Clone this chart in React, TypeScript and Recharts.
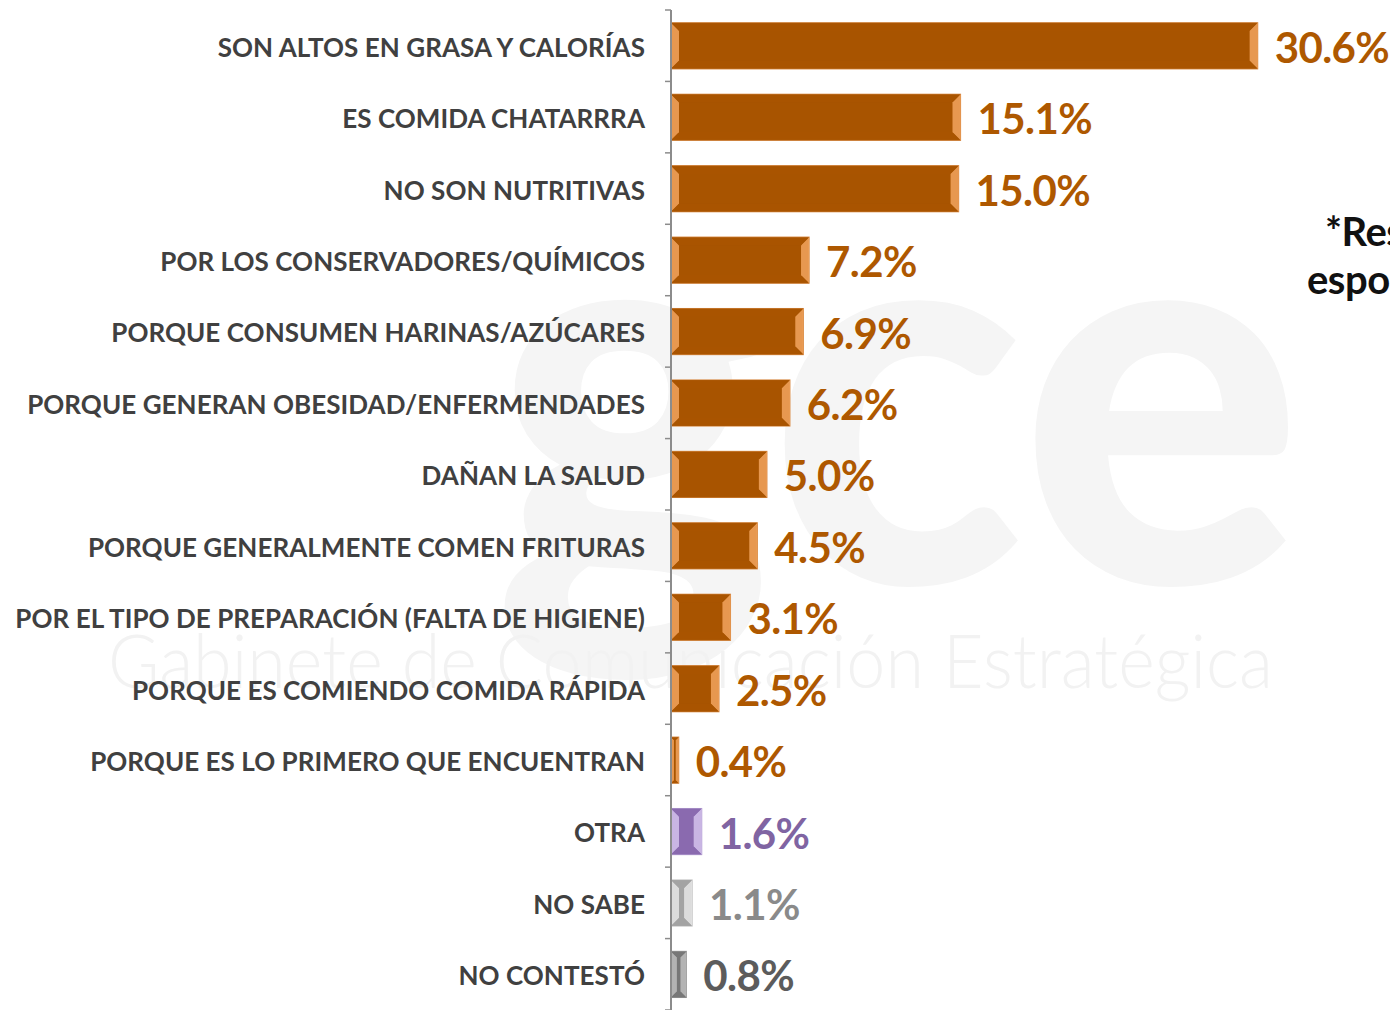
import React from "react";
import { BarChart, Bar, XAxis, YAxis, LabelList } from "recharts";

const categories = [
  "SON ALTOS EN GRASA Y CALORÍAS",
  "ES COMIDA CHATARRRA",
  "NO SON NUTRITIVAS",
  "POR LOS CONSERVADORES/QUÍMICOS",
  "PORQUE CONSUMEN HARINAS/AZÚCARES",
  "PORQUE GENERAN OBESIDAD/ENFERMENDADES",
  "DAÑAN LA SALUD",
  "PORQUE GENERALMENTE COMEN FRITURAS",
  "POR EL TIPO DE PREPARACIÓN (FALTA DE HIGIENE)",
  "PORQUE ES COMIENDO COMIDA RÁPIDA",
  "PORQUE ES LO PRIMERO QUE ENCUENTRAN",
  "OTRA",
  "NO SABE",
  "NO CONTESTÓ",
];
const values = [30.6, 15.1, 15.0, 7.2, 6.9, 6.2, 5.0, 4.5, 3.1, 2.5, 0.4, 1.6, 1.1, 0.8];
const sideNoteLines = ["*Respuesta", "espontánea"];
const watermarkName = "Gabinete de Comunicación Estratégica";
const watermarkLogo = "gce";

const data = categories.map((c, i) => ({ category: c, value: values[i] }));

type Pal = { base: string; light: string; edge: string; text: string };
const PAL: Record<string, Pal> = {
  orange: { base: "#A85400", light: "#F2A45E", edge: "#D88A45", text: "#AE5800" },
  purple: { base: "#8A6AAF", light: "#D4C2EC", edge: "#B7A2D4", text: "#8064A2" },
  gray: { base: "#A3A3A3", light: "#E6E6E6", edge: "#C4C4C4", text: "#8A8A8A" },
  dark: { base: "#777777", light: "#BDBDBD", edge: "#999999", text: "#5C5C5C" },
};
const palFor = (cat: string): Pal => {
  if (cat === "OTRA") return PAL.purple;
  if (cat === "NO SABE") return PAL.gray;
  if (cat === "NO CONTESTÓ") return PAL.dark;
  return PAL.orange;
};

const CHART_W = 1390;
const CHART_H = 1002;
const MARGIN = { top: 2, right: 56, bottom: 0, left: 0 };
const Y_W = 663;
const BAND = (CHART_H - MARGIN.top - MARGIN.bottom) / categories.length;

const BevelBar = (props: any) => {
  const { x, y, width, height, payload } = props;
  if (width == null || height == null) return null;
  const p = palFor(payload.category);
  const b = Math.min(8, width / 2.6);
  const L = x, R = x + width, T = y, B = y + height;
  return (
    <g>
      <rect x={L} y={T} width={width} height={height} fill={p.base} stroke={p.edge} strokeWidth={1.2} />
      <polygon points={`${L},${T} ${L + b},${T + b} ${L + b},${B - b} ${L},${B}`} fill={p.light} opacity={0.85} />
      <polygon points={`${R},${T} ${R - b},${T + b} ${R - b},${B - b} ${R},${B}`} fill={p.light} opacity={0.85} />
      <polygon points={`${L},${T} ${R},${T} ${R - b},${T + b} ${L + b},${T + b}`} fill={p.base} opacity={0.9} />
      <polygon points={`${L},${B} ${R},${B} ${R - b},${B - b} ${L + b},${B - b}`} fill={p.base} opacity={0.9} />
    </g>
  );
};

const CatTick = (props: any) => {
  const { x, y, payload, index } = props;
  const last = index === categories.length - 1;
  return (
    <g>
      <line x1={x - 6} x2={x} y1={y - BAND / 2} y2={y - BAND / 2} stroke="#8C8C8C" strokeWidth={1.5} />
      {last && <line x1={x - 6} x2={x} y1={y + BAND / 2} y2={y + BAND / 2} stroke="#8C8C8C" strokeWidth={1.5} />}
      <text
        x={x - 26}
        y={y}
        dy={11}
        textAnchor="end"
        fontFamily="Lato, sans-serif"
        fontWeight={700}
        fontSize={26}
        letterSpacing={0.05}
        fill="#404040"
      >
        {payload.value}
      </text>
    </g>
  );
};

const ValueLabel = (props: any) => {
  const { x, y, width, height, value, index } = props;
  const p = palFor(categories[index]);
  return (
    <text
      x={x + width + 17}
      y={y + height / 2}
      dy={17}
      fontFamily="Lato, sans-serif"
      fontWeight={700}
      fontSize={42}
      letterSpacing={-0.6}
      fill={p.text}
    >
      {value.toFixed(1)}%
    </text>
  );
};

export default function App() {
  return (
    <div style={{ position: "relative", width: CHART_W, height: CHART_H, background: "#fff" }}>
      <style>{`html,body{overflow:hidden;}`}</style>
      <svg width={CHART_W} height={CHART_H} style={{ position: "absolute", left: 0, top: 0 }}>
        <text x={485} y={575} fontFamily="Lato, sans-serif" fontWeight={900} fontSize={540} fill="#F5F5F5" textLength={810} lengthAdjust="spacingAndGlyphs">
          {watermarkLogo}
        </text>
        <text x={100} y={680} fontFamily="Lato, sans-serif" fontWeight={300} fontSize={74} fill="#F2F2F2" textLength={1165} lengthAdjust="spacingAndGlyphs">
          {watermarkName}
        </text>
      </svg>
      <div style={{ position: "absolute", left: 0, top: 0 }}>
        <BarChart
          width={CHART_W}
          height={CHART_H}
          data={data}
          layout="vertical"
          margin={MARGIN}
          barCategoryGap="18%"
        >
          <XAxis type="number" domain={[0, 35]} hide />
          <YAxis
            type="category"
            dataKey="category"
            width={Y_W}
            axisLine={{ stroke: "#8C8C8C", strokeWidth: 2 }}
            tickLine={false}
            tickSize={0}
            tickMargin={0}
            tick={<CatTick />}
            interval={0}
          />
          <Bar dataKey="value" shape={<BevelBar />} isAnimationActive={false}>
            <LabelList dataKey="value" content={<ValueLabel />} />
          </Bar>
        </BarChart>
      </div>
      <svg width={CHART_W} height={CHART_H} style={{ position: "absolute", left: 0, top: 0, pointerEvents: "none" }}>
        <text x={1317} y={238} fontFamily="Lato, sans-serif" fontWeight={700} fontSize={40} letterSpacing={-0.5} fill="#111">
          {sideNoteLines[0]}
        </text>
        <text x={1299} y={286} fontFamily="Lato, sans-serif" fontWeight={700} fontSize={40} letterSpacing={-0.5} fill="#111">
          {sideNoteLines[1]}
        </text>
      </svg>
    </div>
  );
}
